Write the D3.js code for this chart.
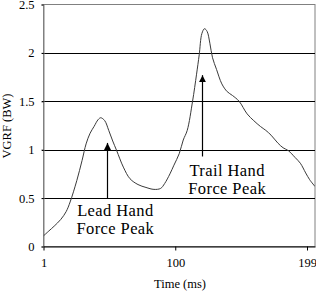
<!DOCTYPE html>
<html>
<head>
<meta charset="utf-8">
<script src="https://cdn.jsdelivr.net/npm/d3@7"></script>
<style>
  html, body { margin: 0; padding: 0; background: #fff; }
  svg { display: block; }
  text { font-family: "Liberation Serif", "Times New Roman", serif; fill: #000; }
</style>
</head>
<body>
<svg id="chart" width="316" height="292"></svg>
<script>
// ---- data ----
const timeMs = [1, 5, 9, 14, 18, 21, 26, 30, 33, 36, 39, 42, 44, 47, 50, 53, 56, 61, 66, 72, 78, 84, 89, 92, 96, 99, 103, 106, 109, 113, 116, 118, 120, 122, 124, 126, 128, 131, 135, 139, 143, 148, 154, 159, 164, 168, 172, 177, 181, 185, 190, 194, 198, 201, 205];
const vgrf   = [0.11, 0.16, 0.21, 0.28, 0.36, 0.46, 0.68, 0.89, 1.06, 1.17, 1.24, 1.31, 1.33, 1.30, 1.20, 1.09, 0.99, 0.82, 0.70, 0.64, 0.61, 0.59, 0.60, 0.65, 0.75, 0.84, 0.96, 1.10, 1.20, 1.50, 1.78, 1.98, 2.20, 2.25, 2.22, 2.10, 1.95, 1.83, 1.68, 1.60, 1.56, 1.50, 1.37, 1.30, 1.24, 1.20, 1.15, 1.07, 1.02, 0.99, 0.92, 0.86, 0.76, 0.69, 0.62];
const xTicks = [1, 100, 199];
const yTicks = [0, 0.5, 1, 1.5, 2, 2.5];
const yTickLabels = ["0", "0.5", "1", "1.5", "2", "2.5"];
const annotations = [
  { lines: ["Lead Hand", "Force Peak"], arrowT: 48.5, arrowFrom: 0.5, arrowTo: 1.07, textT: 55, textV: 0.315 },
  { lines: ["Trail Hand", "Force Peak"], arrowT: 120.3, arrowFrom: 0.93, arrowTo: 1.77, textT: 139, textV: 0.728 }
];

// ---- chart ----
const svg = d3.select("#chart");
const x = d3.scaleLinear().domain([1, 205]).range([43.5, 315]);
const y = d3.scaleLinear().domain([0, 2.5]).range([246.5, 4.5]);

svg.append("defs").append("clipPath").attr("id", "clip")
  .append("rect").attr("x", 43.5).attr("y", 4.5).attr("width", 315 - 43.5).attr("height", 242);

// plot border (gray)
svg.append("rect")
  .attr("x", 43.5).attr("y", 4.5)
  .attr("width", 315 - 43.5).attr("height", 242)
  .attr("fill", "none").attr("stroke", "#808080").attr("stroke-width", 1);

// gridlines
svg.append("g").selectAll("line").data(yTicks.filter(d => d > 0 && d < 2.5)).join("line")
  .attr("x1", 42).attr("x2", 315)
  .attr("y1", d => Math.round(y(d)) + 0.5).attr("y2", d => Math.round(y(d)) + 0.5)
  .attr("stroke", "#000").attr("stroke-width", 1);

// y axis
const yAxis = d3.axisLeft(y).tickValues(yTicks)
  .tickFormat((d, i) => yTickLabels[i]).tickSize(2).tickPadding(7);
const gy = svg.append("g").attr("transform", "translate(43.5,0)").call(yAxis);
gy.select(".domain").attr("stroke", "#808080");
gy.selectAll(".tick line").attr("stroke", "#000");
gy.selectAll("text").style("font-size", "12.5px").style("font-family", '"Liberation Serif", serif');

// x axis
const xAxis = d3.axisBottom(x).tickValues(xTicks).tickSize(4).tickPadding(8).tickSizeOuter(0);
const gx = svg.append("g").attr("transform", "translate(0,246.5)").call(xAxis);
gx.select(".domain").attr("stroke", "#000");
gx.selectAll(".tick line").attr("stroke", "#000");
gx.selectAll("text").style("font-size", "12.5px").style("font-family", '"Liberation Serif", serif');

// curve
const line = d3.line()
  .x((d, i) => x(timeMs[i]))
  .y(d => y(d))
  .curve(d3.curveCatmullRom.alpha(0.5));
svg.append("path").datum(vgrf)
  .attr("clip-path", "url(#clip)")
  .attr("d", line)
  .attr("fill", "none").attr("stroke", "#3a3a3a").attr("stroke-width", 1);

// annotations
svg.append("defs").append("marker")
  .attr("id", "arrow").attr("viewBox", "0 0 10 10")
  .attr("refX", 10).attr("refY", 5)
  .attr("markerWidth", 7).attr("markerHeight", 7)
  .attr("markerUnits", "userSpaceOnUse")
  .attr("orient", "auto")
  .append("path").attr("d", "M0,0 L10,5 L0,10 Z").attr("fill", "#000");

annotations.forEach(a => {
  svg.append("line")
    .attr("x1", Math.round(x(a.arrowT)) + 0.5).attr("x2", Math.round(x(a.arrowT)) + 0.5)
    .attr("y1", y(a.arrowFrom)).attr("y2", y(a.arrowTo))
    .attr("stroke", "#000").attr("stroke-width", 1.2)
    .attr("marker-end", "url(#arrow)");
  const t = svg.append("text")
    .attr("x", x(a.textT))
    .attr("y", y(a.textV))
    .attr("text-anchor", "middle")
    .style("font-size", "16.5px")
    .style("letter-spacing", "0.4px");
  a.lines.forEach((s, i) => {
    t.append("tspan").attr("x", x(a.textT)).attr("dy", i === 0 ? 0 : 18).text(s);
  });
});

// axis titles
svg.append("text")
  .attr("x", 180).attr("y", 288)
  .attr("text-anchor", "middle")
  .style("font-size", "12.5px")
  .text("Time (ms)");
svg.append("text")
  .attr("transform", "translate(11,126) rotate(-90)")
  .attr("text-anchor", "middle")
  .style("font-size", "12.5px")
  .text("VGRF (BW)");
</script>
</body>
</html>
